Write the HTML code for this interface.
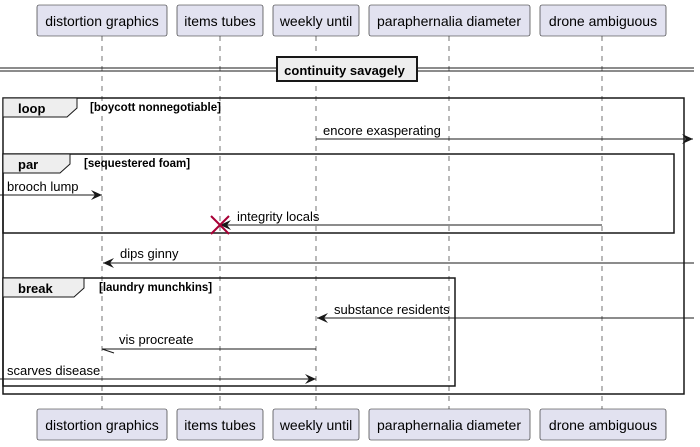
<!DOCTYPE html>
<html><head><meta charset="utf-8"><style>
body{margin:0;background:#fff;}
svg{display:block;font-family:"Liberation Sans",sans-serif;}
</style></head><body>
<svg width="700" height="447" xmlns="http://www.w3.org/2000/svg">
<defs>
<marker id="a" markerWidth="12" markerHeight="10" refX="11" refY="5" orient="auto" markerUnits="userSpaceOnUse"><path d="M0,0 L11,5 L0,10 L4,5 Z" fill="#181818"/></marker>
</defs>
<g stroke="#181818" stroke-width="0.6" stroke-dasharray="5,5" fill="none">
<line x1="102" y1="36" x2="102" y2="409"/>
<line x1="220" y1="36" x2="220" y2="409"/>
<line x1="316" y1="36" x2="316" y2="409"/>
<line x1="449" y1="36" x2="449" y2="409"/>
<line x1="602" y1="36" x2="602" y2="409"/>
</g>
<g fill="#E2E2F0" stroke="#181818" stroke-width="0.6">
<rect x="37" y="5" width="130" height="31" rx="2"/><rect x="177" y="5" width="86" height="31" rx="2"/><rect x="273" y="5" width="86" height="31" rx="2"/><rect x="369" y="5" width="161" height="31" rx="2"/><rect x="540" y="5" width="126" height="31" rx="2"/>
<rect x="37" y="409" width="130" height="31" rx="2"/><rect x="177" y="409" width="86" height="31" rx="2"/><rect x="273" y="409" width="86" height="31" rx="2"/><rect x="369" y="409" width="161" height="31" rx="2"/><rect x="540" y="409" width="126" height="31" rx="2"/>
</g>
<g font-size="14" fill="#000" text-anchor="middle">
<text x="102" y="26">distortion graphics</text><text x="220" y="26">items tubes</text><text x="316" y="26">weekly until</text><text x="449" y="26">paraphernalia diameter</text><text x="603" y="26">drone ambiguous</text>
<text x="102" y="430">distortion graphics</text><text x="220" y="430">items tubes</text><text x="316" y="430">weekly until</text><text x="449" y="430">paraphernalia diameter</text><text x="603" y="430">drone ambiguous</text>
</g>
<line x1="0" y1="68" x2="694" y2="68" stroke="#181818"/><line x1="0" y1="71" x2="694" y2="71" stroke="#181818"/>
<rect x="277" y="57" width="140" height="24" fill="#EEEEEE" stroke="#181818" stroke-width="2"/>
<text x="344.5" y="75" font-size="13" font-weight="bold" text-anchor="middle">continuity savagely</text>
<g fill="none" stroke="#181818" stroke-width="1.5">
<rect x="3" y="98" width="681" height="296"/>
<rect x="3" y="154" width="671" height="79"/>
<rect x="3" y="278" width="452" height="108"/>
</g>
<g fill="#EEEEEE" stroke="#181818" stroke-width="1">
<path d="M3,98 H77 V108 L67,117 H3 Z"/>
<path d="M3,154 H70 V164 L60,173 H3 Z"/>
<path d="M3,278 H84 V288 L74,297 H3 Z"/>
</g>
<g font-size="13" font-weight="bold">
<text x="18" y="113">loop</text><text x="90" y="111" font-size="11.5">[boycott nonnegotiable]</text>
<text x="18" y="169">par</text><text x="84" y="167" font-size="11.5">[sequestered foam]</text>
<text x="18" y="293">break</text><text x="99" y="291" font-size="11.5">[laundry munchkins]</text>
</g>
<g stroke="#181818" stroke-width="1" fill="none">
<line x1="316" y1="139" x2="693" y2="139" marker-end="url(#a)"/>
<line x1="0" y1="195" x2="102" y2="195" marker-end="url(#a)"/>
<line x1="602" y1="225" x2="220" y2="225" marker-end="url(#a)"/>
<line x1="694" y1="263" x2="103" y2="263" marker-end="url(#a)"/>
<line x1="694" y1="318" x2="317" y2="318" marker-end="url(#a)"/>
<line x1="316" y1="349" x2="102" y2="349"/>
<line x1="102" y1="349" x2="114" y2="353"/>
<line x1="0" y1="379" x2="316" y2="379" marker-end="url(#a)"/>
</g>
<g stroke="#A80036" stroke-width="2"><line x1="211" y1="216" x2="229" y2="234"/><line x1="229" y1="216" x2="211" y2="234"/></g>
<g font-size="13" fill="#000">
<text x="323" y="135">encore exasperating</text>
<text x="7" y="191">brooch lump</text>
<text x="237" y="221">integrity locals</text>
<text x="120" y="258">dips ginny</text>
<text x="334" y="314">substance residents</text>
<text x="119" y="344">vis procreate</text>
<text x="7" y="375">scarves disease</text>
</g>
</svg>
</body></html>
